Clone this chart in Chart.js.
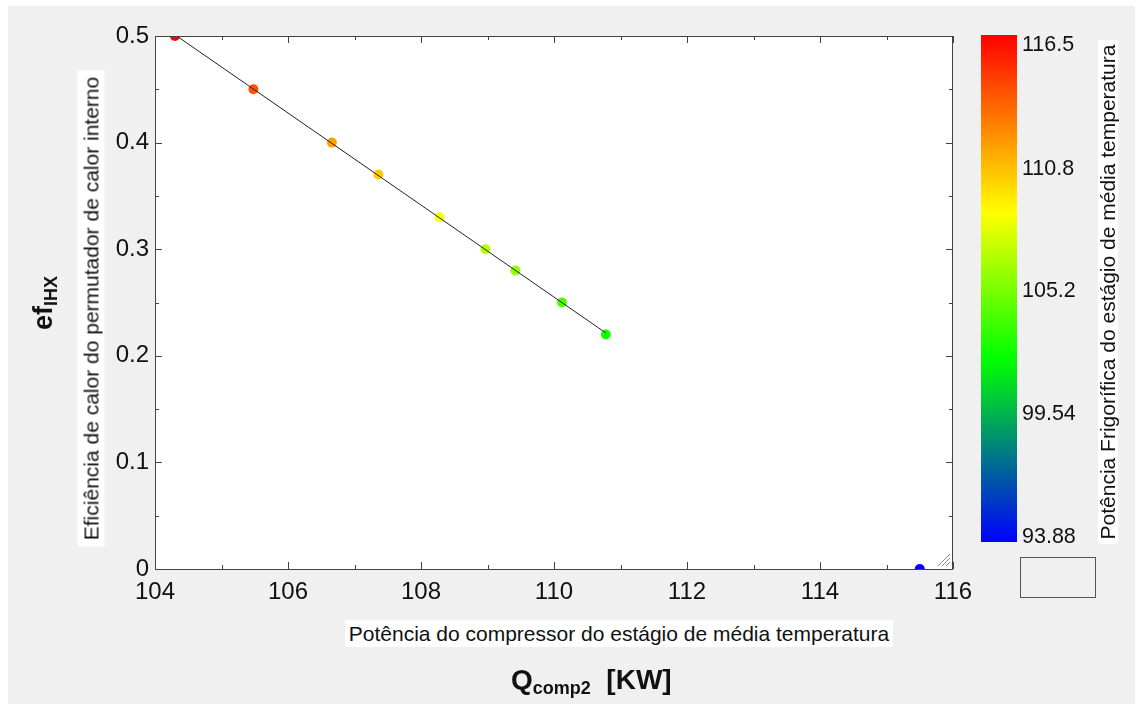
<!DOCTYPE html>
<html>
<head>
<meta charset="utf-8">
<script src="https://cdn.jsdelivr.net/npm/chart.js@4.4.1/dist/chart.umd.min.js"></script>
<style>
	html, body { margin: 0; padding: 0; background: #fff; }
	#wrap { position: relative; width: 1135px; height: 704px; overflow: hidden; }
	#panel { position: absolute; left: 8px; top: 6px; width: 1127px; height: 698px; background: #f0f0f0; }
	#chart { position: absolute; left: 0; top: 0; }
	.lbl { position: absolute; font-family: Arial, "Liberation Sans", sans-serif; color: #111; white-space: nowrap; pointer-events: none; }
	.desc { background: #fff; font-size: 21px; text-align: center; line-height: 27px; }
	.big { font-weight: bold; font-size: 27px; line-height: 32px; }
	.big sub { font-size: 18px; vertical-align: -5px; }
</style>
</head>
<body>
<div id="wrap">
	<div id="panel"></div>
	<canvas id="chart" width="1135" height="704"></canvas>
	<div class="lbl desc" id="xDesc" style="left:345px; top:620px; width:548px;">Potência do compressor do estágio de média temperatura</div>
	<div class="lbl big" id="xTitle" style="left:511px; top:664px; font-size:28px;">Q<sub>comp2</sub>&nbsp; [KW]</div>
	<div class="lbl desc" id="yDesc" style="left:-147px; top:295px; width:476px; transform: rotate(-90deg);">Eficiência de calor do permutador de calor interno</div>
	<div class="lbl big" id="yTitle" style="left:20px; top:283px; transform: rotate(-90deg);">ef<sub>IHX</sub></div>
	<div class="lbl desc" id="cDesc" style="left:856px; top:282px; width:504px; transform: rotate(-90deg); line-height:20px;">Potência Frigorífica do estágio de média temperatura</div>
</div>
<script>
// Values
const qComp2 = [ 104.30, 105.48, 106.66, 107.36, 108.28, 108.97, 109.42, 110.12, 110.78, 115.50 ];
const efIHX = [ 0.50, 0.45, 0.40, 0.37, 0.33, 0.30, 0.28, 0.25, 0.22, 0.0 ];
const qFrig = [ 116.5, 114.0, 111.5, 110.2, 108.4, 106.6, 105.7, 104.0, 102.6, 93.88 ];
const xTicks = [ 104, 106, 108, 110, 112, 114, 116 ];
const yTicks = [ 0, 0.1, 0.2, 0.3, 0.4, 0.5 ];
const colorTicks = [ 116.5, 110.8, 105.2, 99.54, 93.88 ];

const zMin = 93.88;
const zMax = 116.5;

// colour map: blue -> green -> yellow -> red
const stops = [
	[ 0, [ 0, 0, 255 ] ],
	[ 0.36, [ 0, 255, 0 ] ],
	[ 0.65, [ 255, 255, 0 ] ],
	[ 1, [ 255, 0, 0 ] ]
];
function colorAt( t ) {
	t = Math.max( 0, Math.min( 1, t ) );
	for ( let i = 1; i < stops.length; i++ ) {
		if ( t <= stops[ i ][ 0 ] ) {
			const a = stops[ i - 1 ], b = stops[ i ];
			const f = ( t - a[ 0 ] ) / ( b[ 0 ] - a[ 0 ] );
			const c = a[ 1 ].map( ( v, k ) => Math.round( v + ( b[ 1 ][ k ] - v ) * f ) );
			return `rgb(${ c[ 0 ] },${ c[ 1 ] },${ c[ 2 ] })`;
		}
	}
	return 'rgb(255,0,0)';
}

const points = qComp2.map( ( x, i ) => ( { x, y: efIHX[ i ] } ) );
const pointColors = qFrig.map( ( z ) => colorAt( ( z - zMin ) / ( zMax - zMin ) ) );

// least squares fit through the falling branch (all but the last point)
const fitN = 9;
let sx = 0, sy = 0, sxx = 0, sxy = 0;
for ( let i = 0; i < fitN; i++ ) {
	sx += qComp2[ i ]; sy += efIHX[ i ];
	sxx += qComp2[ i ] * qComp2[ i ]; sxy += qComp2[ i ] * efIHX[ i ];
}
const slope = ( fitN * sxy - sx * sy ) / ( fitN * sxx - sx * sx );
const icpt = ( sy - slope * sx ) / fitN;
const fitX = [ qComp2[ 0 ], qComp2[ fitN - 1 ] ];
const fitLine = fitX.map( ( x ) => ( { x, y: icpt + slope * x } ) );

const FONT = 'Arial, "Liberation Sans", sans-serif';

const framePlugin = {
	id: 'frame',
	beforeDraw( chart ) {
		const { ctx, chartArea: a } = chart;
		ctx.save();
		ctx.fillStyle = '#fff';
		ctx.fillRect( a.left, a.top, a.right - a.left, a.bottom - a.top );
		ctx.restore();
	},
	afterDraw( chart ) {
		const { ctx, chartArea: a, scales } = chart;
		ctx.save();
		ctx.strokeStyle = '#444';
		ctx.lineWidth = 1;
		ctx.strokeRect( a.left + 0.5, a.top + 0.5, a.right - a.left - 1, a.bottom - a.top );

		// inward ticks, mirrored on all sides
		ctx.beginPath();
		for ( let v = 104; v <= 116; v += 1 ) {
			const px = Math.round( scales.x.getPixelForValue( v ) ) + 0.5;
			const len = v % 2 === 0 ? 7 : 4;
			ctx.moveTo( px, a.bottom ); ctx.lineTo( px, a.bottom - len );
			ctx.moveTo( px, a.top ); ctx.lineTo( px, a.top + len );
		}
		for ( let k = 0; k <= 10; k++ ) {
			const py = Math.round( scales.y.getPixelForValue( k * 0.05 ) ) + 0.5;
			const len = k % 2 === 0 ? 7 : 4;
			ctx.moveTo( a.left, py ); ctx.lineTo( a.left + len, py );
			ctx.moveTo( a.right, py ); ctx.lineTo( a.right - len, py );
		}
		ctx.stroke();

		// resize grip in the corner
		ctx.strokeStyle = '#888';
		for ( let k = 0; k < 3; k++ ) {
			const d = 4 + k * 4;
			ctx.beginPath();
			ctx.moveTo( a.right - 3, a.bottom - 3 - d );
			ctx.lineTo( a.right - 3 - d, a.bottom - 3 );
			ctx.stroke();
		}

		// colour bar
		const barL = 981, barR = 1017, barT = 35, barB = 542;
		const labTop = 45, labBot = 537;
		const grad = ctx.createLinearGradient( 0, barB, 0, barT );
		stops.forEach( ( s ) => grad.addColorStop( s[ 0 ], `rgb(${ s[ 1 ].join( ',' ) })` ) );
		ctx.fillStyle = grad;
		ctx.fillRect( barL, barT, barR - barL, barB - barT );
		ctx.fillStyle = '#111';
		ctx.font = '21.5px ' + FONT;
		ctx.textAlign = 'left';
		ctx.textBaseline = 'middle';
		colorTicks.forEach( ( v ) => {
			const py = labTop + ( zMax - v ) / ( zMax - zMin ) * ( labBot - labTop );
			ctx.fillText( String( v ), 1022, py );
		} );

		// empty legend box under the bar
		ctx.fillStyle = '#f0f0f0';
		ctx.strokeStyle = '#555';
		ctx.fillRect( 1020, 557, 75, 40 );
		ctx.strokeRect( 1020.5, 557.5, 75, 40 );
		ctx.restore();
	}
};

new Chart( document.getElementById( 'chart' ), {
	type: 'scatter',
	data: {
		datasets: [
			{
				type: 'line',
				data: fitLine,
				borderColor: '#222',
				borderWidth: 1,
				pointRadius: 0,
				fill: false,
				order: 0
			},
			{
				data: points,
				pointBackgroundColor: pointColors,
				pointBorderColor: pointColors,
				pointBorderWidth: 0,
				pointRadius: 5,
				order: 1
			}
		]
	},
	options: {
		responsive: false,
		animation: false,
		devicePixelRatio: 1,
		layout: { padding: { top: 36, right: 182, left: 0, bottom: 0 } },
		plugins: { legend: { display: false }, tooltip: { enabled: false } },
		scales: {
			x: {
				type: 'linear',
				min: 104,
				max: 116,
				grid: { display: false, drawTicks: false },
				border: { display: false },
				afterBuildTicks: ( s ) => { s.ticks = xTicks.map( ( v ) => ( { value: v } ) ); },
				afterFit: ( s ) => { s.height = 135; },
				ticks: { color: '#111', padding: 9, font: { size: 24, family: FONT }, maxRotation: 0 }
			},
			y: {
				type: 'linear',
				min: 0,
				max: 0.5,
				grid: { display: false, drawTicks: false },
				border: { display: false },
				afterBuildTicks: ( s ) => { s.ticks = yTicks.map( ( v ) => ( { value: v } ) ); },
				afterFit: ( s ) => { s.width = 155; },
				ticks: { color: '#111', padding: 6, font: { size: 24, family: FONT } }
			}
		}
	},
	plugins: [ framePlugin ]
} );
</script>
</body>
</html>
